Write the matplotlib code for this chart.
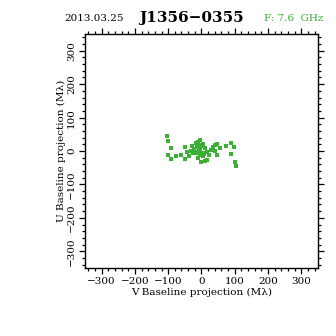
import numpy as np
import matplotlib
matplotlib.use('Agg')
import matplotlib.pyplot as plt
from matplotlib.ticker import MultipleLocator

# uv coverage points (M lambda)
v_proj = [-104, -100, -92, -100, -90, -76, -60, -50, -42, -36, -48, -28, -22, -16,
          -10, -3, 6, 12, -12, -5, 4, 16, 22, -15, -3, 5, -9, 16, 0, 10,
          34, 42, 48, 57, 40, 48, 74, 89, 98, 89, 100, 104,
          -20, -30, -8, 2, 9, -25, 28, -6]
u_proj = [45, 31, 8, -13, -25, -16, -11, 11, -2, -14, -23, 15, 5, 23,
          27, 33, 20, 8, 11, 5, -5, -3, -11, -7, -12, -15, -22, -27, -34, -29,
          13, 18, 21, 10, 1, -11, 15, 23, 11, -10, -34, -45,
          -2, 1, -1, 14, -8, -6, 4, 18]

date_str = '2013.03.25'
source = 'J1356\u22120355'
freq_str = 'F: 7.6  GHz'
green = '#3cb034'

plt.rcParams['font.family'] = ['DejaVu Serif']
plt.rcParams['axes.unicode_minus'] = True

fig = plt.figure(figsize=(3.36, 3.36), dpi=100)
ax = fig.add_axes([0.253, 0.2024, 0.693, 0.6964])

ax.scatter(v_proj, u_proj, s=5, marker='s', color=green, linewidths=0)

ax.set_xlim(-350, 350)
ax.set_ylim(-350, 350)
ax.xaxis.set_major_locator(MultipleLocator(100))
ax.xaxis.set_minor_locator(MultipleLocator(20))
ax.yaxis.set_major_locator(MultipleLocator(100))
ax.yaxis.set_minor_locator(MultipleLocator(20))
ax.tick_params(which='both', direction='out', top=True, right=True,
               labelsize=7.5, width=0.9, colors='black')
ax.tick_params(which='major', length=4.5, pad=2)
ax.tick_params(which='minor', length=2.5)
for lab in ax.get_yticklabels():
    lab.set_rotation(90)
    lab.set_va('center')
for sp in ax.spines.values():
    sp.set_linewidth(1.0)

ax.set_xlabel('V Baseline projection (M\u03bb)', fontsize=7.5, labelpad=1)
ax.set_ylabel('U Baseline projection (M\u03bb)', fontsize=7.5, labelpad=1)

fig.text(0.19, 0.945, date_str, fontsize=7.5, ha='left', va='center')
fig.text(0.415, 0.945, source, fontsize=11, fontweight='bold', ha='left', va='center')
fig.text(0.785, 0.945, freq_str, fontsize=7.5, ha='left', va='center', color=green)

fig.savefig('out.png', dpi=100)
